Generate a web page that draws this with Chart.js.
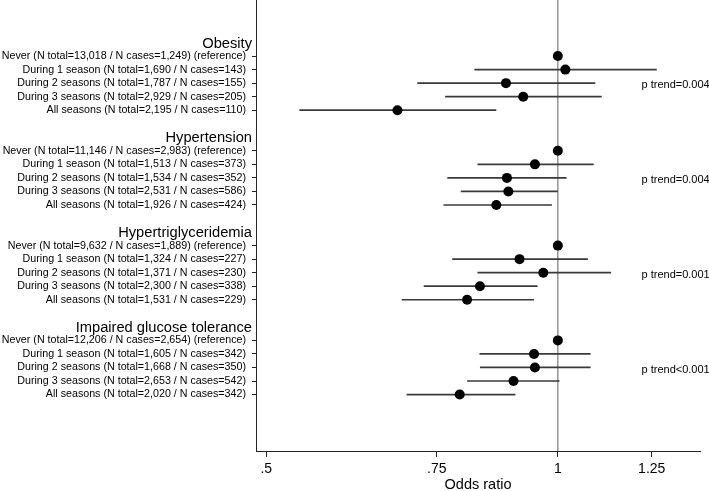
<!DOCTYPE html>
<html><head><meta charset="utf-8">
<script src="https://cdn.jsdelivr.net/npm/chart.js@4/dist/chart.umd.min.js"></script>
<style>html,body{margin:0;padding:0;background:#fff;}#wrap{width:709px;height:491px;position:relative;}</style>
</head><body><div id="wrap"><canvas id="c"></canvas></div>
<script>
const groupNames = ['Obesity', 'Hypertension', 'Hypertriglyceridemia', 'Impaired glucose tolerance'];
const obesityLabels = ['Never (N total=13,018 / N cases=1,249) (reference)', 'During 1 season (N total=1,690 / N cases=143)', 'During 2 seasons (N total=1,787 / N cases=155)', 'During 3 seasons (N total=2,929 / N cases=205)', 'All seasons (N total=2,195 / N cases=110)'];
const hypertensionLabels = ['Never (N total=11,146 / N cases=2,983) (reference)', 'During 1 season (N total=1,513 / N cases=373)', 'During 2 seasons (N total=1,534 / N cases=352)', 'During 3 seasons (N total=2,531 / N cases=586)', 'All seasons (N total=1,926 / N cases=424)'];
const triglycLabels = ['Never (N total=9,632 / N cases=1,889) (reference)', 'During 1 season (N total=1,324 / N cases=227)', 'During 2 seasons (N total=1,371 / N cases=230)', 'During 3 seasons (N total=2,300 / N cases=338)', 'All seasons (N total=1,531 / N cases=229)'];
const glucoseLabels = ['Never (N total=12,206 / N cases=2,654) (reference)', 'During 1 season (N total=1,605 / N cases=342)', 'During 2 seasons (N total=1,668 / N cases=350)', 'During 3 seasons (N total=2,653 / N cases=542)', 'All seasons (N total=2,020 / N cases=342)'];

const obesityOR = [1, 1.018, 0.884, 0.921, 0.683];
const obesityLo = [null, 0.820, 0.716, 0.765, 0.541];
const obesityHi = [null, 1.265, 1.093, 1.110, 0.864];
const hypertensionOR = [1, 0.947, 0.886, 0.889, 0.864];
const hypertensionLo = [null, 0.826, 0.769, 0.794, 0.762];
const hypertensionHi = [null, 1.089, 1.021, 1.000, 0.986];
const triglycOR = [1, 0.913, 0.966, 0.831, 0.806];
const triglycLo = [null, 0.778, 0.826, 0.727, 0.690];
const triglycHi = [null, 1.074, 1.135, 0.953, 0.945];
const glucoseOR = [1, 0.945, 0.947, 0.900, 0.792];
const glucoseLo = [null, 0.830, 0.831, 0.806, 0.698];
const glucoseHi = [null, 1.081, 1.081, 1.004, 0.904];

const pTrends = ['p trend=0.004', 'p trend=0.004', 'p trend=0.001', 'p trend<0.001'];
const xTicks = [0.5, 0.75, 1, 1.25];
const xTickLabels = ['.5', '.75', '1', '1.25'];
const refValue = 1;

const allLabels = [obesityLabels, hypertensionLabels, triglycLabels, glucoseLabels];
const allOR = [obesityOR, hypertensionOR, triglycOR, glucoseOR];
const allLo = [obesityLo, hypertensionLo, triglycLo, glucoseLo];
const allHi = [obesityHi, hypertensionHi, triglycHi, glucoseHi];

const ROWS_PER_GROUP = 7;
const itemRows = [], itemText = [], points = [], ciData = [], titleRows = [];
allLabels.forEach((labs, g) => {
  titleRows.push(g * ROWS_PER_GROUP);
  labs.forEach((lab, i) => {
    const y = g * ROWS_PER_GROUP + 1 + i;
    itemRows.push(y); itemText.push(lab);
    points.push({x: allOR[g][i], y: y});
    if (allLo[g][i] != null) {
      ciData.push({x: allLo[g][i], y: y}, {x: allHi[g][i], y: y}, {x: allOR[g][i], y: null});
    }
  });
});

const FONT = "'Liberation Sans', Arial, Helvetica, sans-serif";

const overlay = {
  id: 'overlay',
  beforeDatasetsDraw(chart) {
    const {ctx, chartArea, scales} = chart;
    const px = scales.x.getPixelForValue(refValue);
    ctx.save();
    ctx.strokeStyle = '#7a7a7a';
    ctx.lineWidth = 1.2;
    ctx.beginPath();
    ctx.moveTo(px, chartArea.top);
    ctx.lineTo(px, chartArea.bottom);
    ctx.stroke();
    ctx.restore();
  },
  afterDraw(chart) {
    const {ctx, scales} = chart;
    ctx.save();
    ctx.fillStyle = '#000';
    ctx.textBaseline = 'middle';
    ctx.font = '14.7px ' + FONT;
    ctx.textAlign = 'right';
    groupNames.forEach((name, g) => {
      ctx.fillText(name, scales.y.left + scales.y.width - 4, scales.y.getPixelForValue(titleRows[g]) + 1);
    });
    ctx.font = '11px ' + FONT;
    ctx.textAlign = 'left';
    pTrends.forEach((t, g) => {
      ctx.fillText(t, scales.x.getPixelForValue(1.22), scales.y.getPixelForValue(titleRows[g] + 3.15));
    });
    ctx.restore();
  }
};

new Chart(document.getElementById('c'), {
  type: 'scatter',
  data: {
    datasets: [
      {data: points, pointRadius: 5, pointHoverRadius: 5, backgroundColor: '#000', borderWidth: 0, order: 0},
      {type: 'line', data: ciData, showLine: true, spanGaps: false, borderColor: '#3a3a3a', borderWidth: 1.7, pointRadius: 0, pointHoverRadius: 0, fill: false, order: 1}
    ]
  },
  options: {
    responsive: true, maintainAspectRatio: false, animation: false,
    layout: {autoPadding: false, padding: {left: 0, right: 9, top: 0, bottom: 0}},
    plugins: {legend: {display: false}, tooltip: {enabled: false}},
    scales: {
      x: {
        type: 'logarithmic', position: 'bottom', min: 0.488, max: 1.402,
        afterBuildTicks: s => { s.ticks = xTicks.map(v => ({value: v})); },
        afterFit: s => { s.height = 40; },
        ticks: {callback: (v, i) => xTickLabels[i], font: {family: FONT, size: 14}, color: '#000', maxRotation: 0, autoSkip: false, padding: 4},
        grid: {drawOnChartArea: false, tickLength: 6, color: '#222', tickWidth: 1},
        border: {color: '#222', width: 1},
        title: {display: true, text: 'Odds ratio', font: {family: FONT, size: 14.5, lineHeight: 0.8}, color: '#000', padding: 0}
      },
      y: {
        type: 'linear', reverse: true, min: -3.14, max: 30.17,
        afterBuildTicks: s => { s.ticks = itemRows.map(v => ({value: v})); },
        afterFit: s => { s.width = 256; s.paddingTop = 0; s.paddingBottom = 0; },
        ticks: {callback: (v, i) => itemText[i], font: {family: FONT, size: 10.7}, color: '#000', autoSkip: false, padding: 6},
        grid: {drawOnChartArea: false, tickLength: 4, color: '#222', tickWidth: 1},
        border: {color: '#222', width: 1}
      }
    }
  },
  plugins: [overlay]
});
</script>
</body></html>
